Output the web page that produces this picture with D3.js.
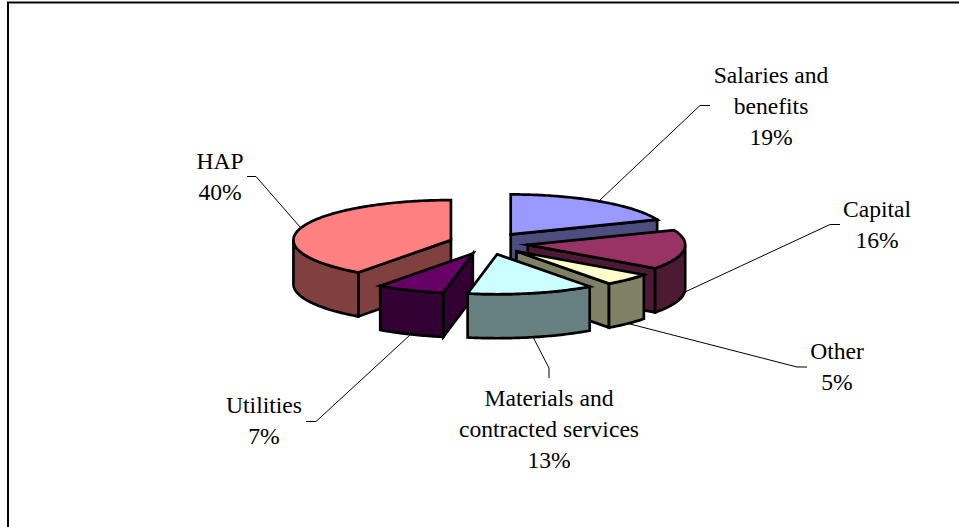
<!DOCTYPE html>
<html>
<head>
<meta charset="utf-8">
<script src="https://cdn.jsdelivr.net/npm/d3@7.9.0/dist/d3.min.js"></script>
<style>
  html, body { margin: 0; padding: 0; background: #fff; overflow: hidden; }
  text { font-family: "Liberation Serif", serif; font-size: 23.6px; fill: #000; text-anchor: middle; }
  .frame { stroke: #000; stroke-width: 2; fill: none; }
  .leader { stroke: #000; stroke-width: 1; fill: none; }
  .face { stroke: #000; stroke-width: 2.7; stroke-linejoin: miter; stroke-miterlimit: 8; }
</style>
</head>
<body>
<svg id="chart" width="959" height="527"></svg>
<script>
const categories = ['Salaries and benefits', 'Capital', 'Other', 'Materials and contracted services', 'Utilities', 'HAP'];
const shares = [19, 16, 5, 13, 7, 40];
const labelLines = [['Salaries and', 'benefits'], ['Capital'], ['Other'], ['Materials and', 'contracted services'], ['Utilities'], ['HAP']];
const topColors = ['#9999ff', '#993366', '#ffffcc', '#ccffff', '#660066', '#ff8080'];
const wallColors = ['#4d4d80', '#4d1a33', '#808066', '#668080', '#330033', '#804040'];

// label placement
const labelX = [771, 877, 837, 549, 264, 220];
const labelY = [82.5, 217, 359, 406, 413, 169];
const leaders = [
  [[600, 200], [700, 105.5], [710, 105.5]],
  [[685, 292], [830, 224.5], [840, 224.5]],
  [[630, 324], [797, 367], [807, 367]],
  [[533, 337], [549, 368], [549, 378]],
  [[410, 335], [316, 421.5], [306, 421.5]],
  [[300, 227], [256, 176.5], [247, 176.5]]
];

// 3d pie projection
const cx = 488.5, cy = 243.5;
const rx = 157.5, ry = 40;
const depth = 44;
const explodeX = 39.5, explodeY = 11;
const drawOrder = [0, 5, 1, 2, 4, 3];

const svg = d3.select('#chart');
svg.append('path').attr('class', 'frame').attr('d', 'M8,527V2.5H959');

const arcs = d3.pie().sort(null).value(d => d)(shares);
const line = d3.line();

function project(d, a, drop) {
  const mid = (d.startAngle + d.endAngle) / 2;
  return [
    cx + explodeX * Math.sin(mid) + rx * Math.sin(a),
    cy - explodeY * Math.cos(mid) - ry * Math.cos(a) + drop
  ];
}

function apex(d, drop) {
  const mid = (d.startAngle + d.endAngle) / 2;
  return [cx + explodeX * Math.sin(mid), cy - explodeY * Math.cos(mid) + drop];
}

function rim(d, a0, a1, drop) {
  const n = Math.max(2, Math.ceil((a1 - a0) * 60));
  return d3.range(n + 1).map(i => project(d, a0 + (a1 - a0) * i / n, drop));
}

function face(points, color) {
  svg.append('path')
    .attr('class', 'face')
    .attr('d', line(points) + 'Z')
    .attr('fill', color);
}

function cutWall(d, a, color) {
  face([apex(d, 0), project(d, a, 0), project(d, a, depth), apex(d, depth)], color);
}

drawOrder.forEach(i => {
  const d = arcs[i];
  // only the walls that face the viewer
  if (Math.sin(d.startAngle) < -1e-6) cutWall(d, d.startAngle, wallColors[i]);
  if (Math.sin(d.endAngle) > 1e-6) cutWall(d, d.endAngle, wallColors[i]);
  const a0 = Math.max(d.startAngle, Math.PI / 2);
  const a1 = Math.min(d.endAngle, Math.PI * 1.5);
  if (a1 > a0) face(rim(d, a0, a1, 0).concat(rim(d, a0, a1, depth).reverse()), wallColors[i]);
  face([apex(d, 0)].concat(rim(d, d.startAngle, d.endAngle, 0)), topColors[i]);
});

svg.selectAll('path.leader')
  .data(leaders)
  .join('path')
  .attr('class', 'leader')
  .attr('d', d => line(d));

categories.forEach((c, i) => {
  const t = svg.append('text').attr('y', labelY[i]);
  labelLines[i].concat(shares[i] + '%').forEach((s, k) => {
    t.append('tspan').attr('x', labelX[i]).attr('y', labelY[i] + k * 31).text(s);
  });
});
</script>
</body>
</html>
